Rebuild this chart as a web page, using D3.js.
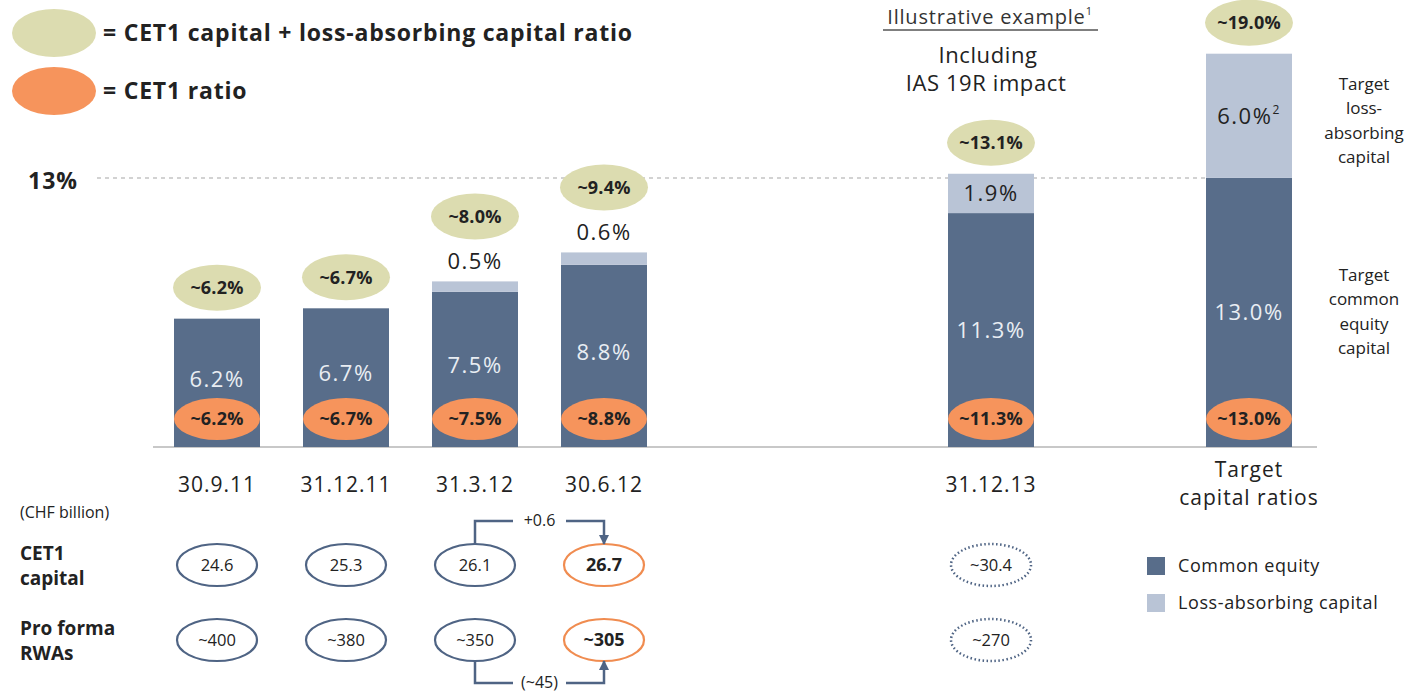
<!DOCTYPE html>
<html>
<head>
<meta charset="utf-8">
<script src="https://cdn.jsdelivr.net/npm/d3@7"></script>
<style>
  body { margin: 0; background: #fff; }
  text { font-family: "Open Sans", "Noto Sans", sans-serif; fill: #222; }
  .bold { font-weight: 700; }
</style>
</head>
<body>
<svg id="chart" width="1408" height="694"></svg>
<script>
// chart data
var categories = ["30.9.11", "31.12.11", "31.3.12", "30.6.12", "31.12.13", "Target capital ratios"];
var commonEquity = [6.2, 6.7, 7.5, 8.8, 11.3, 13.0];
var lossAbsorbing = [0, 0, 0.5, 0.6, 1.9, 6.0];
var totalLabels = ["~6.2%", "~6.7%", "~8.0%", "~9.4%", "~13.1%", "~19.0%"];
var cet1Labels = ["~6.2%", "~6.7%", "~7.5%", "~8.8%", "~11.3%", "~13.0%"];
var cet1Capital = ["24.6", "25.3", "26.1", "26.7", "~30.4"];
var rwas = ["~400", "~380", "~350", "~305", "~270"];
var targetLine = 13;

var colors = {
  common: "#586d8a",
  loss: "#b9c4d6",
  green: "#dcdcb0",
  orange: "#f6945c",
  ringBlue: "#4f6484",
  ringOrange: "#f08c50"
};

var svg = d3.select("#chart");

// 9 slots, empty ones keep the gap before the illustrative columns
var slots = [categories[0], categories[1], categories[2], categories[3], "g1", "g2", categories[4], "g3", categories[5]];
var x = d3.scaleBand().domain(slots).range([152.5, 152.5 + 9 * 129]).paddingInner(1 / 3).paddingOuter(1 / 6);
var y = d3.scaleLinear().domain([0, 19]).range([447, 447 - 19 * 20.7]);

var data = categories.map(function (c, i) {
  return { cat: c, ce: commonEquity[i], la: lossAbsorbing[i], tot: totalLabels[i], cet: cet1Labels[i] };
});

// 13% reference line
svg.append("line")
  .attr("x1", 97).attr("x2", x(categories[5]))
  .attr("y1", y(targetLine)).attr("y2", y(targetLine))
  .attr("stroke", "#c4c4c4").attr("stroke-width", 1.5).attr("stroke-dasharray", "4,4");
svg.append("text").attr("class", "bold")
  .attr("x", 28).attr("y", y(targetLine) + 3).attr("dy", "0.35em")
  .attr("font-size", 23).style("letter-spacing", "1px").text(targetLine + "%");

// baseline
svg.append("line")
  .attr("x1", 153).attr("x2", 1317).attr("y1", y(0)).attr("y2", y(0))
  .attr("stroke", "#c8c8c8").attr("stroke-width", 2);

var g = svg.selectAll("g.col").data(data).enter().append("g").attr("class", "col");

g.append("rect")
  .attr("x", function (d) { return x(d.cat); })
  .attr("width", x.bandwidth())
  .attr("y", function (d) { return y(d.ce); })
  .attr("height", function (d) { return y(0) - y(d.ce); })
  .attr("fill", colors.common);

g.filter(function (d) { return d.la > 0; }).append("rect")
  .attr("x", function (d) { return x(d.cat); })
  .attr("width", x.bandwidth())
  .attr("y", function (d) { return y(d.ce + d.la); })
  .attr("height", function (d) { return y(d.ce) - y(d.ce + d.la); })
  .attr("fill", colors.loss);

// value inside common equity segment
g.append("text")
  .attr("x", function (d) { return x(d.cat) + x.bandwidth() / 2; })
  .attr("y", function (d) { return d.ce < 10 ? y(d.ce * 0.5) - 4 : y(d.ce / 2); })
  .attr("dy", "0.35em").attr("text-anchor", "middle")
  .attr("font-size", 22).style("fill", "#e9edf3").style("letter-spacing", "1.5px")
  .text(function (d) { return d.ce.toFixed(1) + "%"; });

// loss-absorbing values
g.filter(function (d) { return d.la > 0; }).append("text")
  .attr("x", function (d) { return x(d.cat) + x.bandwidth() / 2; })
  .attr("y", function (d) {
    return d.la < 1 ? y(d.ce + d.la) - 20 : y(d.ce + d.la / 2);
  })
  .attr("dy", "0.35em").attr("text-anchor", "middle")
  .attr("font-size", 22).style("letter-spacing", "1.5px").style("fill", "#222")
  .text(function (d) { return d.la.toFixed(1) + "%"; })
  .filter(function (d) { return d.la >= 5; })
  .append("tspan").attr("font-size", 12).attr("dy", "-0.8em").text("2");

// total ellipses (green)
function totalY(d) {
  var top = y(d.ce + d.la);
  return (d.la > 0 && d.la < 1) ? top - 65 : top - 31;
}
g.append("ellipse")
  .attr("cx", function (d) { return x(d.cat) + x.bandwidth() / 2; })
  .attr("cy", totalY).attr("rx", 44).attr("ry", 23).attr("fill", colors.green);
g.append("text").attr("class", "bold")
  .attr("x", function (d) { return x(d.cat) + x.bandwidth() / 2; })
  .attr("y", totalY).attr("dy", "0.35em").attr("text-anchor", "middle")
  .attr("font-size", 18).style("letter-spacing", "0.2px").text(function (d) { return d.tot; });

// CET1 ellipses (orange)
g.append("ellipse")
  .attr("cx", function (d) { return x(d.cat) + x.bandwidth() / 2; })
  .attr("cy", 419).attr("rx", 43).attr("ry", 21).attr("fill", colors.orange);
g.append("text").attr("class", "bold")
  .attr("x", function (d) { return x(d.cat) + x.bandwidth() / 2; })
  .attr("y", 419).attr("dy", "0.35em").attr("text-anchor", "middle")
  .attr("font-size", 18).style("letter-spacing", "0.2px").text(function (d) { return d.cet; });

// category labels
g.each(function (d) {
  var words = d.cat === "Target capital ratios" ? ["Target", "capital ratios"] : [d.cat];
  var t = d3.select(this).append("text")
    .attr("x", x(d.cat) + x.bandwidth() / 2)
    .attr("y", words.length > 1 ? 470 : 485)
    .attr("text-anchor", "middle").attr("font-size", 21)
    .style("letter-spacing", "1px");
  words.forEach(function (w, i) {
    t.append("tspan").attr("x", x(d.cat) + x.bandwidth() / 2).attr("dy", i === 0 ? "0.35em" : "1.3em").text(w);
  });
});

// legend top left
svg.append("ellipse").attr("cx", 54).attr("cy", 33).attr("rx", 42).attr("ry", 24).attr("fill", colors.green);
svg.append("text").attr("class", "bold").attr("x", 103).attr("y", 33).attr("dy", "0.35em")
  .attr("font-size", 23).style("letter-spacing", "0.8px").text("= CET1 capital + loss-absorbing capital ratio");
svg.append("ellipse").attr("cx", 54).attr("cy", 91).attr("rx", 42).attr("ry", 24).attr("fill", colors.orange);
svg.append("text").attr("class", "bold").attr("x", 103).attr("y", 91).attr("dy", "0.35em")
  .attr("font-size", 23).style("letter-spacing", "0.8px").text("= CET1 ratio");

// illustrative header
var ill = svg.append("text").attr("x", 990).attr("y", 17).attr("dy", "0.35em")
  .attr("text-anchor", "middle").attr("font-size", 20).style("fill", "#333")
  .style("letter-spacing", "0.8px");
ill.append("tspan").text("Illustrative example");
ill.append("tspan").attr("font-size", 11).attr("dy", "-0.8em").text("1");
svg.append("line").attr("x1", 883).attr("x2", 1098).attr("y1", 30).attr("y2", 30)
  .attr("stroke", "#555").attr("stroke-width", 1.5);
svg.append("text").attr("x", 988).attr("y", 55).attr("dy", "0.35em").attr("text-anchor", "middle")
  .attr("font-size", 22).style("letter-spacing", "0.6px").text("Including");
svg.append("text").attr("x", 986).attr("y", 83).attr("dy", "0.35em").attr("text-anchor", "middle")
  .attr("font-size", 22).style("letter-spacing", "0.6px").text("IAS 19R impact");

// right side annotations
function stack(lines, cx, y0) {
  lines.forEach(function (l, i) {
    svg.append("text").attr("x", cx).attr("y", y0 + i * 24.5).attr("dy", "0.35em")
      .attr("text-anchor", "middle").attr("font-size", 17).text(l);
  });
}
stack(["Target", "loss-", "absorbing", "capital"], 1364, 84);
stack(["Target", "common", "equity", "capital"], 1364, 275);

// table
var tableCats = categories.slice(0, 5);
var rowY = [565, 640];
svg.append("text").attr("x", 20).attr("y", 512).attr("dy", "0.35em").attr("font-size", 16).text("(CHF billion)");
[["CET1", "capital"], ["Pro forma", "RWAs"]].forEach(function (lbl, r) {
  lbl.forEach(function (l, i) {
    svg.append("text").attr("class", "bold").attr("x", 20).attr("y", rowY[r] - 12 + i * 25)
      .attr("dy", "0.35em").attr("font-size", 19).text(l);
  });
});
[cet1Capital, rwas].forEach(function (vals, r) {
  vals.forEach(function (v, i) {
    var cx = x(tableCats[i]) + x.bandwidth() / 2;
    var last = i === 4, hi = i === 3;
    svg.append("ellipse").attr("cx", cx).attr("cy", rowY[r]).attr("rx", 40).attr("ry", 21)
      .attr("fill", "none")
      .attr("stroke", hi ? colors.ringOrange : colors.ringBlue)
      .attr("stroke-width", last ? 2.5 : 2.2)
      .attr("stroke-dasharray", last ? "1.5,2.5" : null);
    svg.append("text").attr("class", hi ? "bold" : null)
      .attr("x", cx).attr("y", rowY[r]).attr("dy", "0.35em").attr("text-anchor", "middle")
      .attr("font-size", hi ? 18 : 16.5).text(v);
  });
});

// change arrows between 31.3.12 and 30.6.12
var ax1 = x(tableCats[2]) + x.bandwidth() / 2, ax2 = x(tableCats[3]) + x.bandwidth() / 2;
svg.append("defs").append("marker").attr("id", "arr").attr("viewBox", "0 0 10 10")
  .attr("refX", 9).attr("refY", 5).attr("markerWidth", 4).attr("markerHeight", 4)
  .attr("orient", "auto").append("path").attr("d", "M0,0L10,5L0,10z").attr("fill", colors.ringBlue);
var line = d3.line();
svg.append("path").attr("d", line([[ax1, 544], [ax1, 521], [ax1 + 38, 521]]))
  .attr("fill", "none").attr("stroke", colors.ringBlue).attr("stroke-width", 2.5);
svg.append("path").attr("d", line([[ax2 - 38, 521], [ax2, 521], [ax2, 544]]))
  .attr("fill", "none").attr("stroke", colors.ringBlue).attr("stroke-width", 2.5).attr("marker-end", "url(#arr)");
svg.append("text").attr("x", (ax1 + ax2) / 2).attr("y", 520).attr("dy", "0.35em").attr("text-anchor", "middle")
  .attr("font-size", 16).text("+0.6");
svg.append("path").attr("d", line([[ax1, 661], [ax1, 683], [ax1 + 38, 683]]))
  .attr("fill", "none").attr("stroke", colors.ringBlue).attr("stroke-width", 2.5);
svg.append("path").attr("d", line([[ax2 - 38, 683], [ax2, 683], [ax2, 661]]))
  .attr("fill", "none").attr("stroke", colors.ringBlue).attr("stroke-width", 2.5).attr("marker-end", "url(#arr)");
svg.append("text").attr("x", (ax1 + ax2) / 2).attr("y", 682).attr("dy", "0.35em").attr("text-anchor", "middle")
  .attr("font-size", 16).text("(~45)");

// legend bottom right
[["Common equity", colors.common], ["Loss-absorbing capital", colors.loss]].forEach(function (l, i) {
  svg.append("rect").attr("x", 1147).attr("y", 557 + i * 37).attr("width", 18).attr("height", 18).attr("fill", l[1]);
  svg.append("text").attr("x", 1178).attr("y", 566 + i * 37).attr("dy", "0.35em").attr("font-size", 18)
    .style("letter-spacing", "0.6px").text(l[0]);
});
</script>
</body>
</html>
